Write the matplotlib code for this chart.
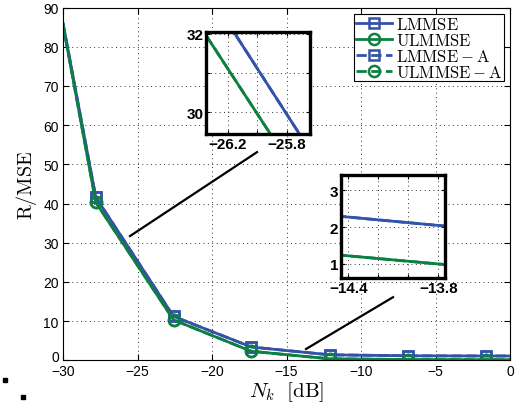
import numpy as np
import matplotlib
matplotlib.use('Agg')
import matplotlib.pyplot as plt
import matplotlib.transforms as mtransforms
from matplotlib.lines import Line2D

# Noise power sweep and resulting R/MSE
nk_db = [-30.0, -27.8, -22.58, -17.36, -12.1, -6.87, -1.63, 0.0]
lmmse = [86.0, 41.6, 11.2, 3.39, 1.40, 1.15, 1.10, 1.10]
ulmmse = [85.6, 40.3, 10.3, 2.30, 0.38, 0.20, 0.15, 0.15]
lmmse_a = [86.0, 41.6, 11.2, 3.39, 1.40, 1.15, 1.10, 1.10]
ulmmse_a = [85.6, 40.3, 10.3, 2.30, 0.38, 0.20, 0.15, 0.15]

# pointer lines from the curves to the zoom boxes
ptr1_x = [-25.5, -16.98]
ptr1_y = [31.7, 53.1]
ptr2_x = [-13.69, -7.85]
ptr2_y = [2.88, 16.1]

plt.rcParams.update({
    'font.family': 'Liberation Sans',
    'font.size': 10,
    'mathtext.fontset': 'cm',
    'xtick.direction': 'in',
    'ytick.direction': 'in',
    'xtick.top': True,
    'ytick.right': True,
    'xtick.major.size': 4,
    'ytick.major.size': 4,
    'axes.linewidth': 0.8,
})

blue = '#3352a8'
green = '#0c8040'
grid_kw = dict(color='#333333', linestyle=(0, (1, 3.5)), linewidth=0.7)


def draw_curves(a, with_labels=False):
    mk = slice(1, -1)
    a.plot(nk_db, lmmse, '-s', color=blue, lw=2, ms=7, mew=1.8, mfc='none',
           markevery=mk, label=r'$\mathrm{LMMSE}$' if with_labels else None)
    a.plot(nk_db, ulmmse, '-o', color=green, lw=2, ms=8, mew=1.8, mfc='none',
           markevery=mk, label=r'$\mathrm{ULMMSE}$' if with_labels else None)
    a.plot(nk_db, lmmse_a, '--s', color=blue, lw=2, ms=7, mew=1.8, mfc='none',
           markevery=mk, label=r'$\mathrm{LMMSE}-\mathrm{A}$' if with_labels else None)
    a.plot(nk_db, ulmmse_a, '--o', color=green, lw=2, ms=8, mew=1.8, mfc='none',
           markevery=mk, label=r'$\mathrm{ULMMSE}-\mathrm{A}$' if with_labels else None)


fig = plt.figure(figsize=(5.23, 4.10), dpi=100)
ax = fig.add_axes([63 / 523, 1 - 361.3 / 410, 447 / 523, 352.8 / 410])
draw_curves(ax, with_labels=True)

ax.plot(ptr1_x, ptr1_y, color='k', lw=1.6)
ax.plot(ptr2_x, ptr2_y, color='k', lw=1.6)

ax.set_xlim(-30, 0)
ax.set_ylim(0, 90)
ax.set_xticks(np.arange(-30, 1, 5))
ax.set_yticks(np.arange(0, 91, 10))
ax.grid(True, **grid_kw)
ax.tick_params(axis='x', pad=3)
ax.tick_params(axis='y', pad=3)
ax.set_xlabel(r'$N_k\ \ [\mathrm{dB}]$', fontsize=15)
ax.set_ylabel(r'$\mathrm{R/MSE}$', fontsize=14.5)
ax.xaxis.set_label_coords(0.501, -0.053)
ax.yaxis.set_label_coords(-0.054, 0.50)

# lift the "0" on the y axis so it clears the x tick labels
fig.canvas.draw()
zero_lbl = ax.get_yticklabels()[0]
zero_lbl.set_transform(zero_lbl.get_transform()
                       + mtransforms.ScaledTranslation(0, 5 / 100, fig.dpi_scale_trans))

leg = ax.legend(loc='upper right', bbox_to_anchor=(504 / 523, 1 - 15 / 410),
                bbox_transform=fig.transFigure, fancybox=False, edgecolor='k',
                framealpha=1, borderpad=0.1, borderaxespad=0, handlelength=2.2,
                handletextpad=0.2, labelspacing=0.0, fontsize=12)
leg.get_frame().set_linewidth(0.8)

# zoom box near -26 dB
ax1 = fig.add_axes([206 / 523, 1 - 135 / 410, 104 / 523, 102 / 410])
draw_curves(ax1)
ax1.set_xlim(-26.35, -25.64)
ax1.set_ylim(29.44, 32.05)
ax1.set_xticks([-26.2, -26.0, -25.8])
ax1.set_xticklabels(['\u221226.2', '', '\u221225.8'])
ax1.set_yticks([30, 31, 32])
ax1.set_yticklabels(['30', '', '32'])

# zoom box near -14 dB
ax2 = fig.add_axes([341 / 523, 1 - 279 / 410, 104 / 523, 103 / 410])
draw_curves(ax2)
ax2.set_xlim(-14.45, -13.755)
ax2.set_ylim(0.62, 3.41)
ax2.set_xticks([-14.4, -14.2, -14.0, -13.8])
ax2.set_xticklabels(['\u221214.4', '', '', '\u221213.8'])
ax2.set_yticks([1, 2, 3])
ax2.set_yticklabels(['1', '2', '3'])

for a in (ax1, ax2):
    a.grid(True, **grid_kw)
    for s in a.spines.values():
        s.set_linewidth(2.4)
    a.tick_params(axis='both', length=3, pad=2, labelsize=11)
    for lbl in a.get_xticklabels() + a.get_yticklabels():
        lbl.set_fontweight('bold')

# stray dots in the lower-left corner
fig.add_artist(Line2D([5 / 523], [1 - 381 / 410], marker='s', ms=2.5, color='k',
                      transform=fig.transFigure))
fig.add_artist(Line2D([23 / 523], [1 - 398 / 410], marker='s', ms=2.5, color='k',
                      transform=fig.transFigure))

fig.savefig('out.png', dpi=100)
